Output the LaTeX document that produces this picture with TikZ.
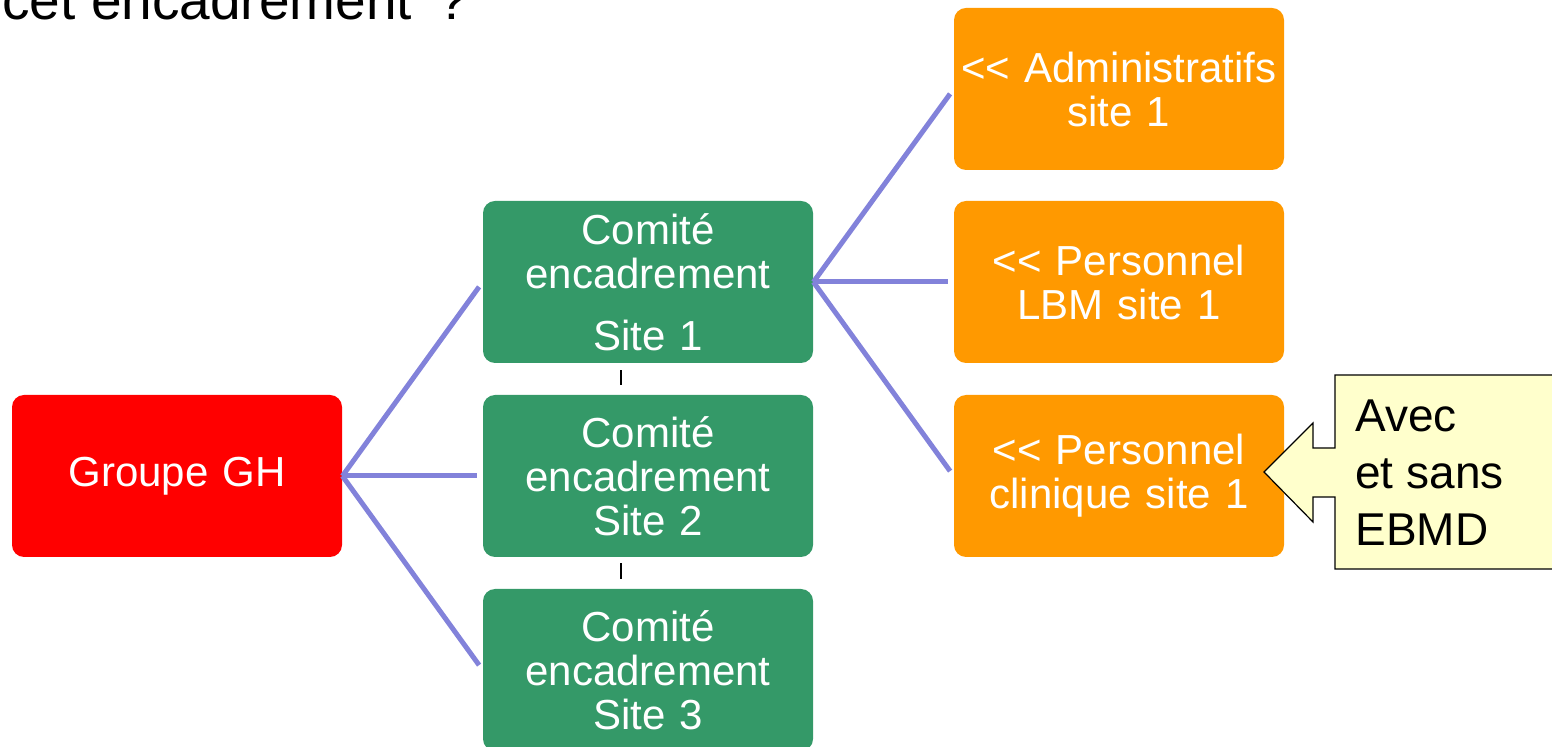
\documentclass[tikz,border=0pt]{standalone}
\usepackage{fontspec}
\setmainfont{Liberation Sans}
\usepackage{xcolor}
\usepackage{tikz}
\usetikzlibrary{calc}

\definecolor{ghred}{RGB}{255,0,0}
\definecolor{sitegreen}{RGB}{52,153,104}
\definecolor{stafforange}{RGB}{255,153,0}
\definecolor{linkblue}{RGB}{130,130,218}
\definecolor{notefill}{RGB}{255,255,204}

\newcommand{\dlt}{<\kern0pt<}

\begin{document}
\begin{tikzpicture}[x=0.5pt,y=-0.5pt,
    box/.style={rounded corners=6pt, minimum width=165pt, minimum height=81pt,
        text width=160pt, align=center, text=white, inner sep=0pt,
        font=\fontsize{21}{22}\selectfont},
    link/.style={draw=linkblue, line width=2.5pt, shorten >=3pt},
    tick/.style={black, line width=0.8pt}]
    \useasboundingbox (0,0) rectangle (1552,747);
    \clip (0,0) rectangle (1552,747);
    \node[anchor=base west, inner sep=0pt, font=\fontsize{27.5}{30}\selectfont] (title) at (2,20) {cet encadrement\hspace{5pt} ?};
    % boxes
    \node[box, fill=ghred] (gh) at (177,476) {Groupe GH};
    \node[box, fill=sitegreen] (c1) at (648,282) {Comité\\encadrement\\[9pt]Site 1};
    \node[box, fill=sitegreen] (c2) at (648,476) {Comité\\encadrement\\Site 2};
    \node[box, fill=sitegreen] (c3) at (648,670) {Comité\\encadrement\\Site 3};
    \node[box, fill=stafforange] (p1) at (1119,89) {\dlt{} Administratifs\\site 1};
    \node[box, fill=stafforange] (p2) at (1119,282) {\dlt{} Personnel\\LBM site 1};
    \node[box, fill=stafforange] (p3) at (1119,476) {\dlt{} Personnel\\clinique site 1};
    % links
    \draw[link] (gh.east) -- (c1.west);
    \draw[link] (gh.east) -- (c2.west);
    \draw[link] (gh.east) -- (c3.west);
    \draw[link] (c1.east) -- (p1.west);
    \draw[link] (c1.east) -- (p2.west);
    \draw[link] (c1.east) -- (p3.west);
    \draw[tick] ($(c1.south)+(-27,7)$) -- ++(0,15);
    \draw[tick] ($(c2.south)+(-27,6)$) -- ++(0,16);
    % callout
    \draw[fill=notefill, line width=0.6pt] (1335,375) -- (1560,375) -- (1560,569)
        -- (1335,569) -- (1335,497) -- (1313,497) -- (1313,522) -- (1264,472)
        -- (1313,423) -- (1313,448) -- (1335,448) -- cycle;
    \node[anchor=west, align=left, inner sep=0pt, font=\fontsize{23}{28.5}\selectfont] (note) at (1355,473) {Avec\\et sans\\EBMD};
\end{tikzpicture}
\end{document}
